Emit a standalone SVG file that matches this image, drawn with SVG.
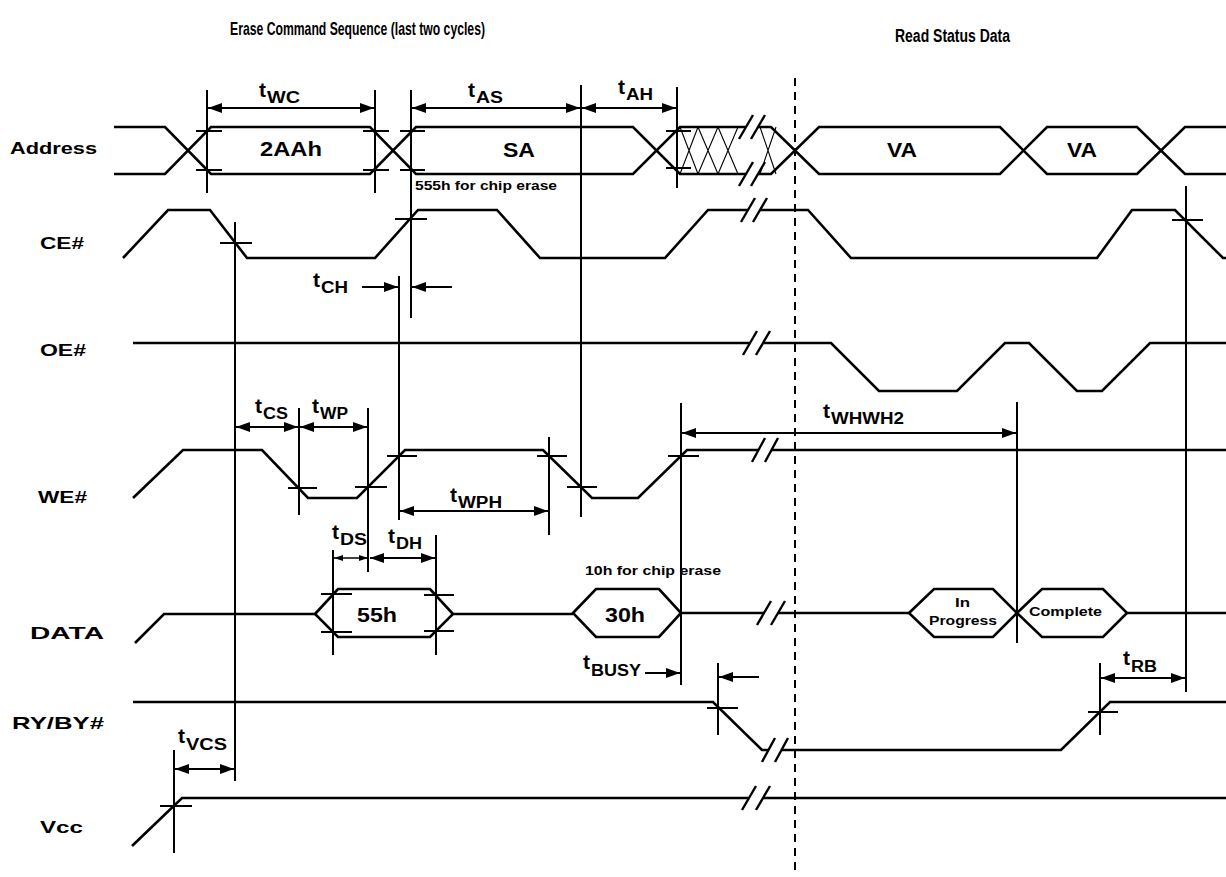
<svg xmlns="http://www.w3.org/2000/svg" width="1226" height="877" viewBox="0 0 1226 877">
<defs>
<marker id="ah" viewBox="0 0 14 10" refX="14" refY="5" markerWidth="14" markerHeight="10" markerUnits="userSpaceOnUse" orient="auto-start-reverse"><path d="M0,0 L14,5 L0,10 z" fill="#000"/></marker>
<marker id="as" viewBox="0 0 9 6" refX="9" refY="3" markerWidth="9" markerHeight="6" markerUnits="userSpaceOnUse" orient="auto-start-reverse"><path d="M0,0 L9,3 L0,6 z" fill="#000"/></marker>
<style>
.sig{fill:none;stroke:#000;stroke-width:2.6;stroke-linejoin:miter}
.hex{fill:#fff;stroke:#000;stroke-width:2.6}
.tl{fill:none;stroke:#000;stroke-width:2}
.th{fill:none;stroke:#000;stroke-width:1.1}
.arr{stroke:#000;stroke-width:2;marker-start:url(#ah);marker-end:url(#ah)}
.arr1{stroke:#000;stroke-width:2;marker-end:url(#ah)}
.arrs{stroke:#000;stroke-width:1.5;marker-start:url(#as);marker-end:url(#as)}
.brk{fill:#fff;stroke:none}
.sl{stroke:#000;stroke-width:2.4}
.dot{stroke:#000;stroke-width:2;stroke-dasharray:8,6}
text{font-family:"Liberation Sans",Arial,Helvetica,sans-serif;font-weight:bold;fill:#000}
.lbl{font-size:17px}
.ttl{font-size:19px}
.ttl2{font-size:18px}
.hx{font-size:20px}
.sm{font-size:13px}
.t{font-size:21px}
.sub{font-size:16px}
</style>
</defs>
<rect width="1226" height="877" fill="#fff"/>

<g id="titles">
<text class="ttl" x="230" y="35" textLength="255" lengthAdjust="spacingAndGlyphs">Erase Command Sequence (last two cycles)</text>
<text class="ttl2" x="895" y="42" textLength="115" lengthAdjust="spacingAndGlyphs">Read Status Data</text>
</g>

<g id="labels">
<text class="lbl" x="10" y="154" textLength="87" lengthAdjust="spacingAndGlyphs">Address</text>
<text class="lbl" x="40" y="249" textLength="44" lengthAdjust="spacingAndGlyphs">CE#</text>
<text class="lbl" x="40" y="356" textLength="46" lengthAdjust="spacingAndGlyphs">OE#</text>
<text class="lbl" x="38" y="503" textLength="49" lengthAdjust="spacingAndGlyphs">WE#</text>
<text class="lbl" x="30" y="639" textLength="74" lengthAdjust="spacingAndGlyphs">DATA</text>
<text class="lbl" x="12" y="729" textLength="92" lengthAdjust="spacingAndGlyphs">RY/BY#</text>
<text class="lbl" x="40" y="833" textLength="43" lengthAdjust="spacingAndGlyphs">Vcc</text>
</g>

<g id="sig-address">
<path class="sig" d="M114,127 H165 L211,174 H370 L416,127 H633 L680,174 H771 L819,127 H1000 L1047,174 H1137 L1185,127 H1226"/>
<path class="sig" d="M114,174 H165 L211,127 H370 L416,174 H633 L680,127 H771 L819,174 H1000 L1047,127 H1137 L1185,174 H1226"/>
<path class="th" d="M680,127 L698,174 M680,174 L698,127 M698,127 L718,174 M698,174 L718,127 M718,127 L738,174 M718,174 L738,127 M760,127 L776,174 M760,174 L776,127"/>
<text class="hx" x="260" y="156" textLength="62" lengthAdjust="spacingAndGlyphs">2AAh</text>
<text class="hx" x="503" y="157" textLength="32" lengthAdjust="spacingAndGlyphs">SA</text>
<text class="hx" x="887" y="157" textLength="30" lengthAdjust="spacingAndGlyphs">VA</text>
<text class="hx" x="1067" y="157" textLength="30" lengthAdjust="spacingAndGlyphs">VA</text>
<text class="sm" x="415" y="190" textLength="142" lengthAdjust="spacingAndGlyphs">555h for chip erase</text>
</g>

<g id="sig-ce">
<path class="sig" d="M123,258 L168,210 H210 L247,258 H375 L418,210 H497 L540,258 H665 L708,210 H808 L851,258 H1097 L1132,210 H1175 L1223,258 H1226"/>
</g>

<g id="sig-oe">
<path class="sig" d="M133,343 H831 L879,391 H957 L1005,343 H1029 L1077,391 H1102 L1150,343 H1226"/>
</g>

<g id="sig-we">
<path class="sig" d="M133,498 L183,450 H262 L308,498 H357 L405,450 H543 L592,498 H638 L687,450 H1226"/>
</g>

<g id="sig-data">
<path class="sig" d="M135,643 L164,614 H315 M453,614 H573 M681,613 H909 M1127,613 H1226"/>
<polygon class="hex" points="315,614 338,589 430,589 453,614 430,637 338,637"/>
<polygon class="hex" points="573,613 596,589 659,589 681,613 659,637 596,637"/>
<polygon class="hex" points="909,613 934,589 993,589 1017,613 993,637 934,637"/>
<polygon class="hex" points="1017,613 1042,589 1103,589 1127,613 1103,637 1042,637"/>
<text class="hx" x="357" y="622" textLength="40" lengthAdjust="spacingAndGlyphs">55h</text>
<text class="hx" x="605" y="622" textLength="40" lengthAdjust="spacingAndGlyphs">30h</text>
<text class="sm" x="955" y="607" textLength="15" lengthAdjust="spacingAndGlyphs">In</text>
<text class="sm" x="929" y="625" textLength="68" lengthAdjust="spacingAndGlyphs">Progress</text>
<text class="sm" x="1029" y="616" textLength="73" lengthAdjust="spacingAndGlyphs">Complete</text>
<text class="sm" x="585" y="575" textLength="136" lengthAdjust="spacingAndGlyphs">10h for chip erase</text>
</g>

<g id="sig-rdy">
<path class="sig" d="M133,702 H713 L762,750 H1061 L1110,702 H1226"/>
</g>

<g id="sig-vcc">
<path class="sig" d="M132,846 L182,798 H1226"/>
</g>

<g id="breaks">
<polygon class="brk" points="739,139 753,115 765,115 751,139"/>
<polygon class="brk" points="739,186 753,162 765,162 751,186"/>
<polygon class="brk" points="741,222 755,198 767,198 753,222"/>
<polygon class="brk" points="743,355 757,331 770,331 756,355"/>
<polygon class="brk" points="752,462 765,438 778,438 765,462"/>
<polygon class="brk" points="757,625 771,601 785,601 771,625"/>
<polygon class="brk" points="762,762 775,738 788,738 775,762"/>
<polygon class="brk" points="742,810 756,786 770,786 756,810"/>
<path class="sl" d="M739,139 L753,115 M751,139 L765,115 M739,186 L753,162 M751,186 L765,162 M741,222 L755,198 M753,222 L767,198 M743,355 L757,331 M756,355 L770,331 M752,462 L765,438 M765,462 L778,438 M757,625 L771,601 M771,625 L785,601 M762,762 L775,738 M775,762 L788,738 M742,810 L756,786 M756,810 L770,786"/>
</g>

<g id="connectors">
<line class="dot" x1="795" y1="78" x2="795" y2="875"/>
<path class="tl" d="M207,90 V193 M375,90 V193 M411,90 V318 M581,85 V517 M677,87 V188 M235,222 V781 M399,276 V520 M299,408 V515 M368,408 V572 M549,437 V535 M681,403 V685 M1017,402 V643 M333,550 V655 M436,535 V655 M718,663 V735 M1100,663 V735 M1186,186 V692 M174,750 V853"/>
<path class="tl" d="M196,131 H222 M196,170 H222 M363,131 H389 M363,170 H389 M400,131 H425 M400,170 H425 M666,131 H691 M666,168 H691 M220,243 H252 M395,219 H427 M1172,220 H1203 M288,488 H317 M355,487 H387 M387,456 H417 M537,456 H567 M567,487 H597 M668,456 H699 M321,594 H352 M321,632 H352 M424,595 H454 M424,631 H454 M707,708 H738 M1088,712 H1118 M160,806 H192"/>
<line class="arr" x1="208" y1="108" x2="374" y2="108"/>
<line class="arr" x1="412" y1="108" x2="580" y2="108"/>
<line class="arr" x1="582" y1="108" x2="676" y2="108"/>
<line class="arr1" x1="362" y1="287" x2="398" y2="287"/>
<line class="arr1" x1="452" y1="287" x2="412" y2="287"/>
<line class="arr" x1="236" y1="427" x2="298" y2="427"/>
<line class="arr" x1="300" y1="427" x2="367" y2="427"/>
<line class="arr" x1="400" y1="511" x2="548" y2="511"/>
<line class="arr" x1="682" y1="433" x2="1016" y2="433"/>
<line class="arrs" x1="334" y1="558" x2="368" y2="558"/>
<line class="arr" x1="370" y1="558" x2="435" y2="558"/>
<line class="arr1" x1="645" y1="673" x2="680" y2="673"/>
<line class="arr1" x1="759" y1="677" x2="719" y2="677"/>
<line class="arr" x1="1101" y1="678" x2="1185" y2="678"/>
<line class="arr" x1="175" y1="769" x2="234" y2="769"/>
</g>

<g id="timing-labels">
<text class="t" x="259" y="97">t</text><text class="sub" x="267" y="103" textLength="33" lengthAdjust="spacingAndGlyphs">WC</text>
<text class="t" x="468" y="97">t</text><text class="sub" x="476" y="103" textLength="27" lengthAdjust="spacingAndGlyphs">AS</text>
<text class="t" x="618" y="94">t</text><text class="sub" x="626" y="100" textLength="27" lengthAdjust="spacingAndGlyphs">AH</text>
<text class="t" x="313" y="287">t</text><text class="sub" x="321" y="293" textLength="27" lengthAdjust="spacingAndGlyphs">CH</text>
<text class="t" x="255" y="413">t</text><text class="sub" x="263" y="419" textLength="25" lengthAdjust="spacingAndGlyphs">CS</text>
<text class="t" x="312" y="413">t</text><text class="sub" x="320" y="419" textLength="28" lengthAdjust="spacingAndGlyphs">WP</text>
<text class="t" x="450" y="502">t</text><text class="sub" x="458" y="508" textLength="44" lengthAdjust="spacingAndGlyphs">WPH</text>
<text class="t" x="332" y="539">t</text><text class="sub" x="340" y="545" textLength="27" lengthAdjust="spacingAndGlyphs">DS</text>
<text class="t" x="388" y="543">t</text><text class="sub" x="396" y="549" textLength="26" lengthAdjust="spacingAndGlyphs">DH</text>
<text class="t" x="823" y="418">t</text><text class="sub" x="831" y="424" textLength="73" lengthAdjust="spacingAndGlyphs">WHWH2</text>
<text class="t" x="583" y="669">t</text><text class="sub" x="591" y="676" textLength="50" lengthAdjust="spacingAndGlyphs">BUSY</text>
<text class="t" x="1123" y="665">t</text><text class="sub" x="1131" y="672" textLength="26" lengthAdjust="spacingAndGlyphs">RB</text>
<text class="t" x="178" y="743">t</text><text class="sub" x="186" y="750" textLength="41" lengthAdjust="spacingAndGlyphs">VCS</text>
</g>
</svg>
